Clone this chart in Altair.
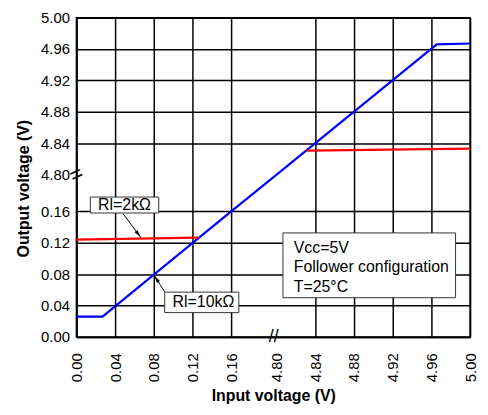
import math
import altair as alt
import pandas as pd

# ---- broken-axis helpers ----
GAP = 0.047          # size of the break (data units on the virtual scale)
BREAK_LO = 0.16
BREAK_HI = 4.80


def v(val):
    """map a real voltage onto the continuous virtual scale"""
    return val if val < 1 else val - BREAK_HI + BREAK_LO + GAP


VMAX = v(5.00)
W, H = 397, 322

# ---- data ----
blue_x = [0.000, 0.027, 0.16, 4.80, 4.9655, 5.000]
blue_y = [0.026, 0.026, 0.16, 4.80, 4.966, 4.967]
red_lo_x = [0.000, 0.126]
red_lo_y = [0.124, 0.1265]
red_hi_x = [4.831, 5.000]
red_hi_y = [4.8305, 4.833]
tick_values = [0.00, 0.04, 0.08, 0.12, 0.16, 4.80, 4.84, 4.88, 4.92, 4.96, 5.00]

# annotation boxes (real voltage coords)
box_x1 = [0.0144, 0.0913, 4.8065]
box_x2 = [0.0851, 0.1679, 4.985]
box_y1 = [0.158, 0.031, 0.050]
box_y2 = [0.1783, 0.0571, 0.1326]

label_text = ["Rl=2kΩ", "Rl=10kΩ"]
label_x = [0.0497, 0.1313]
label_y = [0.1686, 0.0444]

cond_text = ["Vcc=5V", "Follower configuration", "T=25°C"]
cond_x = [4.8177, 4.8177, 4.8177]
cond_y = [0.1135, 0.0889, 0.0640]

arrow_x1 = [0.0482, 0.0913]
arrow_y1 = [0.1571, 0.0574]
arrow_x2 = [0.0664, 0.0805]
arrow_y2 = [0.1270, 0.0783]

rows = []
for x, y in zip(blue_x, blue_y):
    rows.append({"series": "Rl=10kΩ", "seg": "b", "vx": v(x), "vy": v(y)})
for x, y in zip(red_lo_x, red_lo_y):
    rows.append({"series": "Rl=2kΩ", "seg": "r1", "vx": v(x), "vy": v(y)})
for x, y in zip(red_hi_x, red_hi_y):
    rows.append({"series": "Rl=2kΩ", "seg": "r2", "vx": v(x), "vy": v(y)})
lines_df = pd.DataFrame(rows)

boxes_df = pd.DataFrame({
    "x1": [v(a) for a in box_x1], "x2": [v(a) for a in box_x2],
    "y1": [v(a) for a in box_y1], "y2": [v(a) for a in box_y2],
})
labels_df = pd.DataFrame({"t": label_text, "x": [v(a) for a in label_x], "y": [v(a) for a in label_y]})
cond_df = pd.DataFrame({"t": cond_text, "x": [v(a) for a in cond_x], "y": [v(a) for a in cond_y]})

pxx, pxy = W / VMAX, H / VMAX
arrows = []
for x1, y1, x2, y2 in zip(arrow_x1, arrow_y1, arrow_x2, arrow_y2):
    dx = (v(x2) - v(x1)) * pxx
    dy = -(v(y2) - v(y1)) * pxy
    ang = math.degrees(math.atan2(dx, -dy)) % 360
    arrows.append({"x1": v(x1), "y1": v(y1), "x2": v(x2), "y2": v(y2), "ang": ang})
arrows_df = pd.DataFrame(arrows)

breaks_df = pd.DataFrame({
    "t": ["=", "//"],
    "x": [0.0, v(4.797)],
    "y": [v(4.80), 0.0],
    "ang": [335, 0],
    "fs": [22, 18],
})

tick_v = [v(t) for t in tick_values]
shift = BREAK_HI - BREAK_LO - GAP
label_expr = f"datum.value < 0.18 ? format(datum.value, '.2f') : format(datum.value + {shift}, '.2f')"
grid_test = f"abs(datum.value - {v(4.80)}) < 0.001"

xscale = alt.Scale(domain=[0, VMAX], nice=False, zero=False)
yscale = alt.Scale(domain=[0, VMAX], nice=False, zero=False)

x_axis = alt.Axis(values=tick_v, tickCount=30, labelExpr=label_expr, labelAngle=270, ticks=False,
                  labelOverlap=False, labelBound=False, labelFlush=False,
                  grid=True, gridColor="black", gridWidth=1.5,
                  gridOpacity=alt.condition(grid_test, alt.value(0), alt.value(1)),
                  labelPadding=16, title="Input voltage (V)", titlePadding=6)
y_axis = alt.Axis(values=tick_v, tickCount=30, labelExpr=label_expr, ticks=False,
                  labelOverlap=False, labelBound=False, labelFlush=False,
                  grid=True, gridColor="black", gridWidth=1.5,
                  gridOpacity=alt.condition(grid_test, alt.value(0), alt.value(1)),
                  labelPadding=7, title="Output voltage (V)", titlePadding=9, titleY=172)

base_lines = alt.Chart(lines_df).mark_line(strokeWidth=2.2).encode(
    x=alt.X("vx:Q", scale=xscale, axis=x_axis),
    y=alt.Y("vy:Q", scale=yscale, axis=y_axis),
    color=alt.Color("series:N", scale=alt.Scale(domain=["Rl=10kΩ", "Rl=2kΩ"], range=["#0000ff", "#ff0000"]), legend=None),
    detail="seg:N",
)

boxes = alt.Chart(boxes_df).mark_rect(fill="white", stroke="#333333", strokeWidth=1).encode(
    x="x1:Q", x2="x2:Q", y="y1:Q", y2="y2:Q")

labels = alt.Chart(labels_df).mark_text(font="Arial", fontSize=16, color="black", align="center", baseline="middle").encode(
    x="x:Q", y="y:Q", text="t:N")

cond = alt.Chart(cond_df).mark_text(font="Arial", fontSize=16, color="black", align="left", baseline="middle").encode(
    x="x:Q", y="y:Q", text="t:N")

arrow_lines = alt.Chart(arrows_df).mark_rule(color="black", strokeWidth=1).encode(
    x="x1:Q", y="y1:Q", x2="x2:Q", y2="y2:Q")

arrow_heads = alt.Chart(arrows_df).mark_point(shape="M0,0L0.45,2L-0.45,2Z", filled=True, color="black", size=60, opacity=1).encode(
    x="x2:Q", y="y2:Q", angle=alt.Angle("ang:Q", scale=None))

breaks = alt.Chart(breaks_df).mark_text(font="Arial", color="black", align="center", baseline="middle").encode(
    x="x:Q", y="y:Q", text="t:N", angle=alt.Angle("ang:Q", scale=None), size=alt.Size("fs:Q", scale=None))

chart = alt.layer(base_lines, arrow_lines, arrow_heads, boxes, labels, cond, breaks).properties(
    width=W, height=H, autosize="none",
    padding={"left": 69, "top": 8, "right": 10, "bottom": 76},
).configure_view(stroke="black", strokeWidth=1.5).configure_axis(
    labelFont="Arial", labelFontSize=15, labelColor="black",
    titleFont="Arial", titleFontSize=16, titleFontWeight="bold", titleColor="black",
    domainColor="black", domainWidth=1.5,
)

chart.save("out.html", embed_options={"renderer": "svg", "actions": False})
